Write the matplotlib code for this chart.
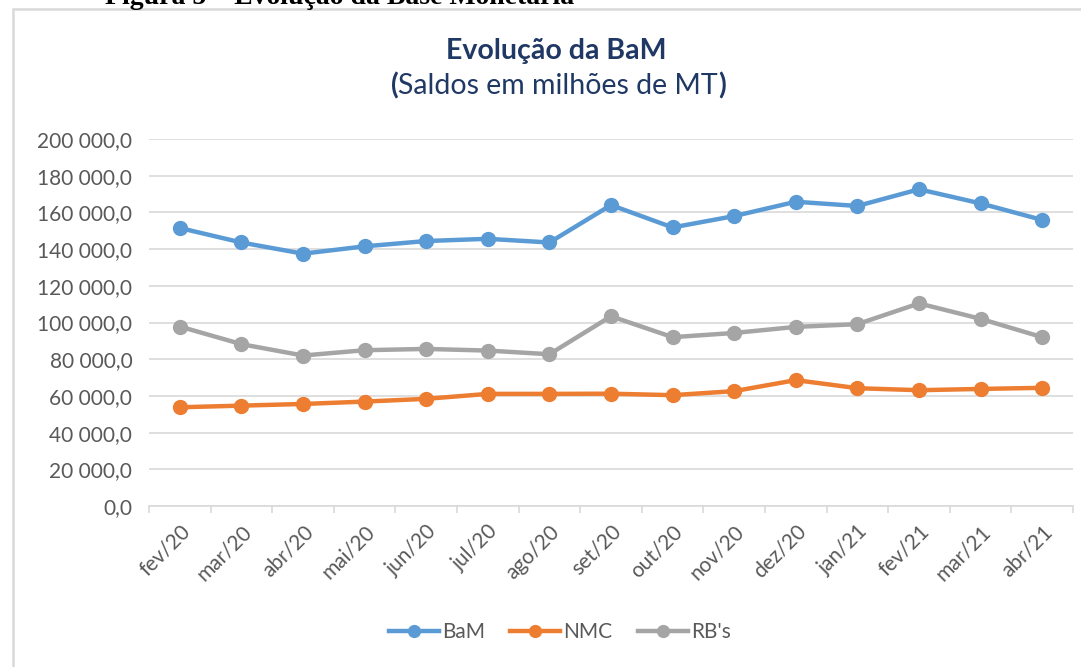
import matplotlib
matplotlib.use("Agg")
import matplotlib.pyplot as plt
from matplotlib.patches import Rectangle
from matplotlib.ticker import FuncFormatter, FixedLocator

months = ["fev/20", "mar/20", "abr/20", "mai/20", "jun/20", "jul/20", "ago/20",
          "set/20", "out/20", "nov/20", "dez/20", "jan/21", "fev/21", "mar/21", "abr/21"]
bam = [151500, 143600, 137500, 141500, 144400, 145600, 143600,
       164000, 151800, 158000, 165800, 163500, 172600, 164900, 155900]
nmc = [53800, 54700, 55600, 56900, 58400, 61100, 61100,
       61200, 60400, 62600, 68600, 64200, 63100, 63800, 64400]
rbs = [97800, 88200, 82000, 84900, 85600, 84700, 82700,
       103400, 92000, 94300, 97600, 99100, 110400, 102000, 92000]
yticks = [0, 20000, 40000, 60000, 80000, 100000, 120000, 140000, 160000, 180000, 200000]

W, H = 1081, 667
fig = plt.figure(figsize=(W / 100, H / 100), dpi=100)
FONT = ["Lato", "DejaVu Sans"]

# chart frame
fig.patches.append(Rectangle((13 / W, -0.2), 1.2, (H - 9) / H + 0.2, transform=fig.transFigure,
                             fill=False, edgecolor="#D9D9D9", linewidth=1.8, zorder=0))

# cut-off figure caption
fig.text(105 / W, (H - 4) / H, "Figura 5 – Evolução da Base Monetária", ha="left", va="baseline",
         fontsize=20, fontweight="bold", family=["Liberation Serif", "DejaVu Serif"], color="black")

# titles
navy = "#1F3864"
TS = 20.5
fig.text(556 / W, (H - 59) / H, "Evolução da BaM", ha="center", va="baseline",
         fontsize=TS, fontweight="bold", family=FONT, color=navy)
t1 = fig.text(558 / W, (H - 94) / H, "(Saldos em milhões de MT)", ha="center", va="baseline",
              fontsize=TS, family=FONT, color=navy, alpha=0)
fig.canvas.draw()
r = fig.canvas.get_renderer()
bb = t1.get_window_extent(r)
x = bb.x0
parts = [("(", "bold"), ("Saldos em milhões de MT", "normal"), (")", "bold")]
for s, w in parts:
    tt = fig.text(x / W, (H - 94) / H, s, ha="left", va="baseline", fontsize=TS,
                  fontweight=w, family=FONT, color=navy)
    x = tt.get_window_extent(r).x1

ax = fig.add_axes([149 / W, 1 - 506 / H, (1073 - 149) / W, (506 - 139) / H])
xs = list(range(len(months)))
ax.plot(xs, bam, color="#5B9BD5", lw=3.2, marker="o", ms=10, label="BaM", zorder=3)
ax.plot(xs, nmc, color="#ED7D31", lw=3.2, marker="o", ms=10, label="NMC", zorder=3)
ax.plot(xs, rbs, color="#A5A5A5", lw=3.2, marker="o", ms=10, label="RB's", zorder=3)

ax.set_xlim(-0.5, len(months) - 0.5)
ax.set_ylim(0, 200000)
ax.set_yticks(yticks)
ax.yaxis.set_major_formatter(FuncFormatter(lambda v, p: f"{int(v):,}".replace(",", " ") + ",0"))
ax.grid(axis="y", color="#D9D9D9", lw=1.2)
ax.set_axisbelow(True)
for s in ["top", "right", "left"]:
    ax.spines[s].set_visible(False)
ax.spines["bottom"].set_color("#D9D9D9")
ax.spines["bottom"].set_linewidth(1.2)

ax.set_xticks(xs)
ax.set_xticklabels(months)
ax.xaxis.set_minor_locator(FixedLocator([i - 0.5 for i in range(len(months) + 1)]))
ax.tick_params(axis="x", which="major", length=0, pad=11)
ax.tick_params(axis="x", which="minor", length=5, color="#D9D9D9", width=1.2)
ax.tick_params(axis="y", length=0, pad=12)
for lab in ax.get_xticklabels():
    lab.set_rotation(45)
    lab.set_ha("right")
    lab.set_va("top")
    lab.set_rotation_mode("anchor")
for lab in ax.get_xticklabels() + ax.get_yticklabels():
    lab.set_fontsize(15)
    lab.set_family(FONT)
    lab.set_color("#595959")

leg = fig.legend(loc="center", bbox_to_anchor=(560 / W, 1 - 632 / H), ncol=3, frameon=False,
                 prop={"family": FONT, "size": 15}, handlelength=2.4, columnspacing=1.2,
                 handletextpad=0.15, markerscale=0.85)
for t in leg.get_texts():
    t.set_color("#595959")

fig.savefig("out.png", dpi=100)
